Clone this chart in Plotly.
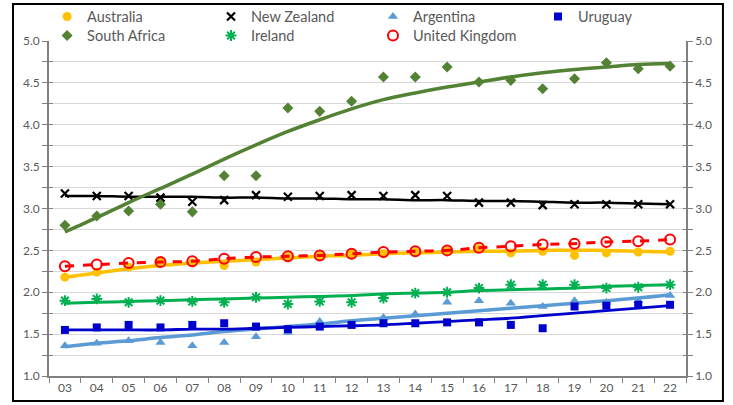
import plotly.graph_objects as go

years = ["03", "04", "05", "06", "07", "08", "09", "10", "11", "12",
         "13", "14", "15", "16", "17", "18", "19", "20", "21", "22"]

# observed points
australia = [2.18, 2.24, 2.30, 2.37, 2.35, 2.32, 2.36, 2.42, 2.43, 2.46,
             2.46, 2.48, 2.49, 2.52, 2.47, 2.49, 2.44, 2.47, 2.48, 2.49]
new_zealand = [3.18, 3.15, 3.15, 3.13, 3.08, 3.10, 3.16, 3.14, 3.15, 3.16,
               3.15, 3.16, 3.15, 3.07, 3.07, 3.04, 3.05, 3.05, 3.05, 3.05]
argentina = [1.36, 1.39, 1.42, 1.40, 1.36, 1.40, 1.47, 1.52, 1.65, 1.62,
             1.70, 1.74, 1.88, 1.90, 1.87, 1.83, 1.90, 1.88, 1.90, 1.96]
uruguay = [1.55, 1.58, 1.61, 1.58, 1.61, 1.63, 1.59, 1.56, 1.59, 1.61,
           1.63, 1.63, 1.64, 1.64, 1.61, 1.57, 1.83, 1.84, 1.85, 1.85]
south_africa = [2.80, 2.91, 2.97, 3.05, 2.96, 3.39, 3.39, 4.20, 4.16, 4.28,
                4.57, 4.57, 4.69, 4.51, 4.53, 4.43, 4.55, 4.74, 4.67, 4.70]
ireland = [1.90, 1.92, 1.88, 1.90, 1.89, 1.88, 1.94, 1.86, 1.89, 1.88,
           1.93, 1.99, 2.00, 2.05, 2.09, 2.09, 2.09, 2.05, 2.06, 2.09]
united_kingdom = [2.31, 2.33, 2.35, 2.36, 2.37, 2.40, 2.42, 2.43, 2.44, 2.46,
                  2.48, 2.49, 2.50, 2.53, 2.55, 2.57, 2.58, 2.60, 2.61, 2.63]

# trend lines
australia_trend = [2.18, 2.23, 2.28, 2.32, 2.35, 2.37, 2.39, 2.41, 2.43, 2.44,
                   2.46, 2.47, 2.48, 2.49, 2.49, 2.50, 2.50, 2.50, 2.49, 2.48]
new_zealand_trend = [3.15, 3.15, 3.14, 3.14, 3.14, 3.13, 3.13, 3.12, 3.12, 3.11,
                     3.11, 3.10, 3.10, 3.09, 3.09, 3.08, 3.07, 3.07, 3.06, 3.05]
argentina_trend = [1.35, 1.39, 1.42, 1.46, 1.49, 1.53, 1.56, 1.59, 1.62, 1.66,
                   1.69, 1.72, 1.75, 1.78, 1.81, 1.84, 1.87, 1.90, 1.93, 1.97]
uruguay_trend = [1.55, 1.55, 1.55, 1.55, 1.56, 1.56, 1.57, 1.58, 1.59, 1.60,
                 1.61, 1.63, 1.65, 1.67, 1.69, 1.72, 1.75, 1.78, 1.81, 1.84]
south_africa_trend = [2.72, 2.89, 3.07, 3.24, 3.41, 3.59, 3.76, 3.92, 4.06, 4.19,
                      4.30, 4.38, 4.45, 4.51, 4.57, 4.62, 4.66, 4.69, 4.72, 4.73]
ireland_trend = [1.87, 1.88, 1.89, 1.90, 1.91, 1.92, 1.93, 1.94, 1.95, 1.96,
                 1.98, 1.99, 2.00, 2.02, 2.03, 2.04, 2.05, 2.07, 2.08, 2.09]
united_kingdom_trend = united_kingdom

y_ticks = [1.0 + 0.25 * i for i in range(17)]
y_labels = [f"{v:.1f}" if i % 2 == 0 else "" for i, v in enumerate(y_ticks)]

x = list(range(len(years)))

# (name, points, trend, colour, marker, line width, dash, legend id, legend x, legend y)
series = [
    ("Australia", australia, australia_trend, "#FFC000",
     dict(symbol="circle", size=9, color="#FFC000"), 3.5, "solid", "legend", -0.003, 1.1206),
    ("New Zealand", new_zealand, new_zealand_trend, "#000000",
     dict(symbol="x-thin-open", size=8, color="#000000", line=dict(width=2.2, color="#000000")),
     2.5, "solid", "legend2", 0.2543, 1.1206),
    ("Argentina", argentina, argentina_trend, "#5B9BD5",
     dict(symbol="triangle-up", size=9, color="#5B9BD5"), 3.5, "solid", "legend3", 0.5086, 1.1206),
    ("Uruguay", uruguay, uruguay_trend, "#0000CC",
     dict(symbol="square", size=8, color="#0000CC"), 2.8, "solid", "legend4", 0.7677, 1.1206),
    ("South Africa", south_africa, south_africa_trend, "#548235",
     dict(symbol="diamond", size=8.5, color="#548235"), 3.5, "solid", "legend5", -0.003, 1.0639),
    ("Ireland", ireland, ireland_trend, "#00B050",
     dict(symbol="asterisk-open", size=9, color="#00B050", line=dict(width=2, color="#00B050")),
     3, "solid", "legend6", 0.2543, 1.0639),
    ("United Kingdom", united_kingdom, united_kingdom_trend, "#FF0000",
     dict(symbol="circle-open", size=10, color="#FF0000", line=dict(width=2, color="#FF0000")),
     3, "dash", "legend7", 0.5086, 1.0639),
]

fig = go.Figure()
font = "Lato, 'Open Sans', sans-serif"
grey = "#595959"
axis_grey = "#808080"

legends = {}
for name, vals, trend, col, mk, lw, dash, lg, lx, ly in series:
    fig.add_trace(go.Scatter(x=x, y=trend, mode="lines", line_shape="spline",
                             line=dict(color=col, width=lw, dash=dash, smoothing=0.8),
                             showlegend=False, hoverinfo="skip"))
    fig.add_trace(go.Scatter(x=x, y=vals, mode="markers", name=name, marker=mk, legend=lg))
    legends[lg] = dict(orientation="v", x=lx, xanchor="left", y=ly, yanchor="top",
                       font=dict(size=14.5, color=grey, family=font),
                       bgcolor="rgba(0,0,0,0)", itemwidth=30)

# invisible traces to anchor the extra axes
for ax in ["y2", "y3", "y4"]:
    fig.add_trace(go.Scatter(x=[0], y=[1], yaxis=ax, mode="markers",
                             marker=dict(opacity=0), showlegend=False, hoverinfo="skip"))

common_y = dict(range=[1, 5], tickvals=y_ticks, showgrid=False, zeroline=False,
                tickcolor=axis_grey)

fig.update_layout(
    width=733, height=405,
    margin=dict(l=49, r=47, t=41, b=29, autoexpand=False),
    paper_bgcolor="white", plot_bgcolor="white",
    font=dict(family=font, color=grey, size=12),
    hovermode=False,
    xaxis=dict(range=[-0.5, len(years) - 0.5], tickvals=x, ticktext=years,
               ticks="", showgrid=False, zeroline=False,
               showline=True, linecolor=axis_grey, linewidth=1.5,
               tickfont=dict(size=12, color=grey),
               minor=dict(tickvals=[i - 0.5 for i in range(len(years) + 1)],
                          ticks="outside", ticklen=5, tickcolor=axis_grey, showgrid=False)),
    yaxis=dict(range=[1, 5], tickvals=y_ticks, ticktext=y_labels,
               ticks="outside", ticklen=5, tickcolor=axis_grey,
               showgrid=True, gridcolor="#D9D9D9", gridwidth=1.2, zeroline=False,
               showline=True, linecolor=axis_grey, linewidth=1.5,
               tickfont=dict(size=12, color=grey)),
    yaxis2=dict(ticktext=y_labels, overlaying="y", side="right",
                ticks="outside", ticklen=5,
                showline=True, linecolor=axis_grey, linewidth=1.5,
                tickfont=dict(size=12, color=grey), **common_y),
    yaxis3=dict(overlaying="y", side="left", ticks="inside", ticklen=4,
                showticklabels=False, showline=False, **common_y),
    yaxis4=dict(overlaying="y", side="right", ticks="inside", ticklen=3,
                showticklabels=False, showline=False, **common_y),
    shapes=[dict(type="rect", xref="paper", yref="paper",
                 x0=-0.0565, x1=1.058, y0=-0.0746, y1=1.1104,
                 line=dict(color="black", width=2), fillcolor="rgba(0,0,0,0)", layer="below")],
    **legends,
)

fig.write_html("out.html", config={"displayModeBar": False},
               post_script="document.body.style.margin='0px';")
